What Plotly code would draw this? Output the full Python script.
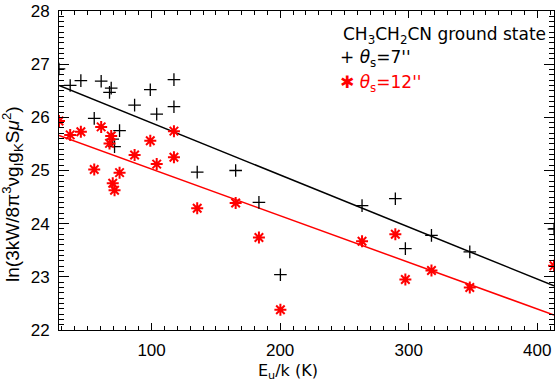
import numpy as np
import plotly.graph_objects as go

# rotation diagram of CH3CH2CN ground state, two source sizes
eu = [28, 36.7, 45, 55.4, 60.8, 67.3, 68.6, 69.8, 71.2, 75.1, 86.8, 99, 104, 117.4, 117.4,
      135.5, 165.4, 183.5, 200.2, 263.7, 289.6, 297.4, 317.7, 347.5, 413]
ln_7 = [26.91, 26.60, 26.69, 25.98, 26.68, 26.47, 26.55, 25.59, 25.45, 25.75, 26.23, 26.52, 26.06, 26.71, 26.20,
        24.97, 25.00, 24.40, 23.04, 24.34, 24.47, 23.53, 23.78, 23.47, 23.90]
ln_12 = [25.93, 25.67, 25.73, 25.02, 25.82, 25.51, 25.65, 24.76, 24.63, 24.96, 25.29, 25.56, 25.12, 25.74, 25.25,
         24.29, 24.39, 23.74, 22.38, 23.67, 23.80, 22.95, 23.12, 22.80, 23.21]

# fitted lines at both ends of the x range
fit_x = [28, 413]
fit_7 = [26.60, 22.83]
fit_12 = [25.66, 22.28]

W, H = 557, 383
L, R, T, B = 59, 2, 2, 53
pw = W - L - R
ph = H - T - B


def px2paper(x, y):
    return (x - L) / pw, (H - B - y) / ph


fig = go.Figure()

fig.add_trace(go.Scatter(x=fit_x, y=fit_7, mode="lines", line=dict(color="black", width=1.5)))
fig.add_trace(go.Scatter(x=fit_x, y=fit_12, mode="lines", line=dict(color="red", width=1.5)))

fig.add_trace(go.Scatter(x=eu, y=ln_7, mode="markers",
                         marker=dict(symbol="cross-thin", size=9, line=dict(color="black", width=1.3))))
fig.add_trace(go.Scatter(x=eu, y=ln_12, mode="markers",
                         marker=dict(symbol="asterisk-open", size=10, color="red",
                                     line=dict(color="red", width=2))))

font = dict(family="Liberation Sans, DejaVu Sans", size=17, color="black")

fig.update_layout(
    width=W, height=H,
    margin=dict(l=L, r=R, t=T, b=B),
    paper_bgcolor="#fff", plot_bgcolor="#fff",
    showlegend=False,
    font=font,
)

fig.update_xaxes(range=[28, 413], showgrid=False, zeroline=False,
                 showline=True, linecolor="black", linewidth=1, mirror="allticks",
                 ticks="inside", ticklen=7, tickcolor="black", dtick=100, tick0=0,
                 ticklabelstandoff=5, ticklabeloverflow="allow",
                 minor=dict(dtick=10, ticks="inside", ticklen=4, tickcolor="black"))
fig.update_yaxes(range=[21.9999, 28.0001], showgrid=False, zeroline=False,
                 showline=True, linecolor="black", linewidth=1, mirror="allticks",
                 ticks="inside", ticklen=10, tickcolor="black", dtick=1, tick0=0,
                 ticklabelstandoff=5, ticklabeloverflow="allow",
                 minor=dict(dtick=0.1, ticks="inside", ticklen=5, tickcolor="black"))


def label(px, py, text, xanchor="center", size=17, color="black", angle=0, family="DejaVu Sans"):
    x0, y0 = px2paper(px, py)
    fig.add_annotation(x=x0, y=y0, xref="paper", yref="paper", showarrow=False,
                       xanchor=xanchor, yanchor="middle", textangle=angle, text=text,
                       font=dict(family=family, size=size, color=color))


# axis titles
label(288, 373, "E<sub>u</sub>/k (K)", size=16)
label(13, 190, "ln(3kW/8π<sup>3</sup>νg<sub>I</sub>g<sub>K</sub>S<i>μ</i><sup>2</sup>)", size=19, angle=-90,
      family=font["family"])

# legend text in the corner
label(549, 27, "CH<sub>3</sub>CH<sub>2</sub>CN ground state", xanchor="right")
label(339, 51, "+ <i>θ</i><sub>s</sub>=7''", xanchor="left")
label(339, 77, "✱ <i>θ</i><sub>s</sub>=12''", xanchor="left", color="red")

# page body has a default 8px margin, drop it so the figure sits at the corner
fig.write_html("out.html", config={"displayModeBar": False},
               post_script="document.body.style.margin='0';")
